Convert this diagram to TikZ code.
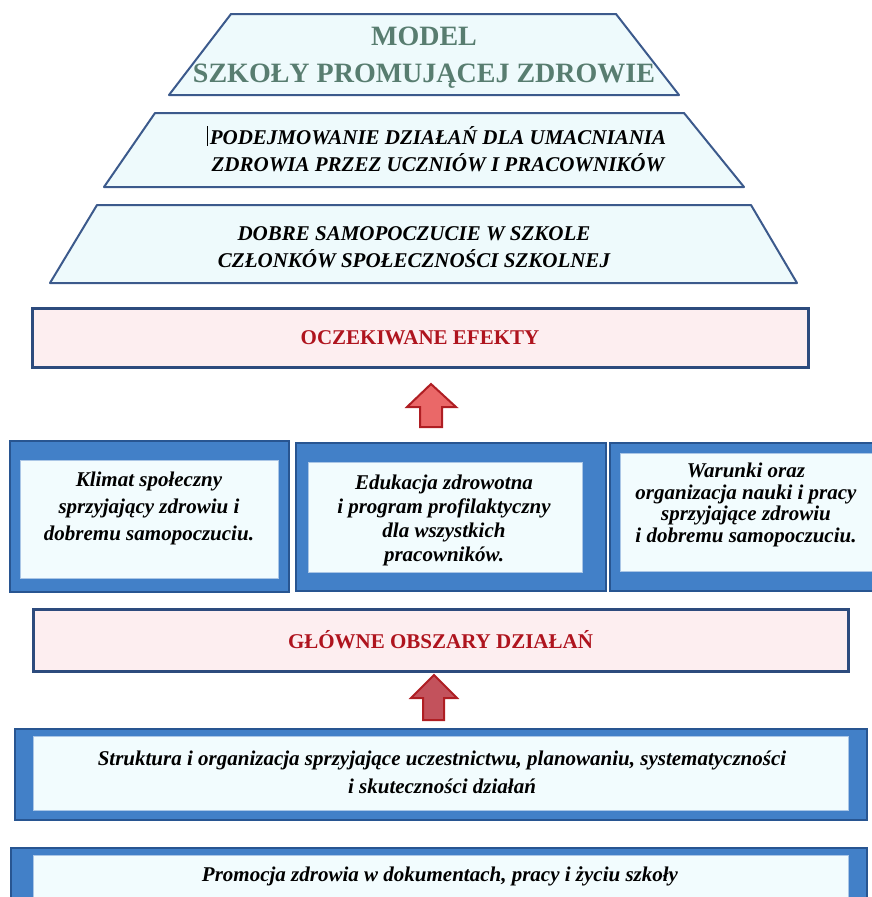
\documentclass[tikz,border=0pt]{standalone}
\usepackage{fontspec}
\setmainfont{Liberation Serif}
\definecolor{trapline}{RGB}{60,90,140}
\definecolor{trapfill}{RGB}{238,250,252}
\definecolor{titlegreen}{RGB}{88,125,112}
\definecolor{pinkfill}{RGB}{253,238,240}
\definecolor{darkframe}{RGB}{45,75,125}
\definecolor{effectred}{RGB}{175,20,30}
\definecolor{frameblue}{RGB}{66,128,200}
\definecolor{framedark}{RGB}{40,85,145}
\definecolor{innerfill}{RGB}{242,252,254}
\definecolor{arrowred}{RGB}{234,104,104}
\definecolor{arrowdark}{RGB}{175,30,35}
\definecolor{arrowmaroon}{RGB}{195,82,92}
\tikzset{
  trap/.style={draw=trapline, fill=trapfill, line width=2pt, line join=round},
  pinkbox/.style={draw=darkframe, fill=pinkfill, line width=3pt, inner sep=0pt, text=effectred, font=\bfseries\fontsize{21}{25}\selectfont},
  bluebox/.style={draw=framedark, fill=frameblue, line width=2pt, inner sep=0pt},
  innerbox/.style={draw=frameblue!45, fill=innerfill, line width=0.6pt, inner sep=0pt},
  boxtext/.style={align=center, inner sep=0pt, font=\bfseries\itshape\fontsize{21}{24}\selectfont},
  blockarrow/.style={line width=2pt, line join=miter}
}

\begin{document}
\begin{tikzpicture}[x=1pt, y=-1pt]
    \useasboundingbox (0,0) rectangle (872,897);
    % piramida
    \draw[trap] (231,14) -- (616,14) -- (679,95) -- (169,95) -- cycle;
    \node[align=center, text=titlegreen, font=\bfseries\fontsize{28}{37}\selectfont] (model) at (424,58) {MODEL\\SZKOŁY PROMUJĄCEJ ZDROWIE};
    \draw[trap] (155,113) -- (684,113) -- (744,187) -- (104,187) -- cycle;
    \node[align=center, font=\bfseries\itshape\fontsize{21}{27}\selectfont] (podejmowanie) at (438,149) {PODEJMOWANIE DZIAŁAŃ DLA UMACNIANIA\\ZDROWIA PRZEZ UCZNIÓW I PRACOWNIKÓW};
    \draw[line width=0.6pt] (207,126) -- (207,146);
    \draw[trap] (97,205) -- (751,205) -- (797,283) -- (50,283) -- cycle;
    \node[align=center, font=\bfseries\itshape\fontsize{21}{27}\selectfont] (dobre) at (414,247) {DOBRE SAMOPOCZUCIE W SZKOLE\\CZŁONKÓW SPOŁECZNOŚCI SZKOLNEJ};

    \node[pinkbox, minimum width=776pt, minimum height=59pt] (efekty) at (420,338) {OCZEKIWANE EFEKTY};
    \draw[blockarrow, draw=arrowdark, fill=arrowred] (431,384) -- (456,407) -- (442,407) -- (442,427) -- (420,427) -- (420,407) -- (407,407) -- cycle;

    % obszary
    \node[bluebox, minimum width=279pt, minimum height=151pt] (klimatbox) at (149.5,516.5) {};
    \node[innerbox, minimum width=258pt, minimum height=118pt] (klimatin) at (149,519) {};
    \node[boxtext, font=\bfseries\itshape\fontsize{21}{27}\selectfont] (klimat) at (149,508) {Klimat społeczny\\sprzyjający zdrowiu i\\dobremu samopoczuciu.};
    \node[bluebox, minimum width=310pt, minimum height=148pt] (edukacjabox) at (451,517) {};
    \node[innerbox, minimum width=274pt, minimum height=110pt] (edukacjain) at (445,517) {};
    \node[boxtext] (edukacja) at (444,520) {Edukacja zdrowotna\\i program profilaktyczny\\dla wszystkich\\pracowników.};
    \node[bluebox, minimum width=270pt, minimum height=148pt] (warunkibox) at (745,517) {};
    \node[innerbox, minimum width=255pt, minimum height=118pt] (warunkiin) at (747.5,512) {};
    \node[boxtext, font=\bfseries\itshape\fontsize{21}{21.5}\selectfont] (warunki) at (746,505) {Warunki oraz\\organizacja nauki i pracy\\sprzyjające zdrowiu\\i dobremu samopoczuciu.};

    \node[pinkbox, minimum width=815pt, minimum height=62pt] (obszary) at (440.5,640) {GŁÓWNE OBSZARY DZIAŁAŃ};
    \draw[blockarrow, draw=arrowdark, fill=arrowmaroon] (434,675) -- (457,698) -- (444,698) -- (444,720) -- (423,720) -- (423,698) -- (411,698) -- cycle;

    % podstawy
    \node[bluebox, minimum width=852pt, minimum height=91pt] (strukturabox) at (441,774.5) {};
    \node[innerbox, minimum width=815pt, minimum height=74pt] (strukturain) at (440.5,773) {};
    \node[boxtext, font=\bfseries\itshape\fontsize{21}{28}\selectfont] (struktura) at (442,772) {Struktura i organizacja sprzyjające uczestnictwu, planowaniu, systematyczności\\i skuteczności działań};
    \node[bluebox, minimum width=856pt, minimum height=62pt] (promocjabox) at (439,879) {};
    \node[innerbox, minimum width=815pt, minimum height=50pt] (promocjain) at (440.5,880) {};
    \node[boxtext] (promocja) at (440,876) {Promocja zdrowia w dokumentach, pracy i życiu szkoły};
\end{tikzpicture}
\end{document}
